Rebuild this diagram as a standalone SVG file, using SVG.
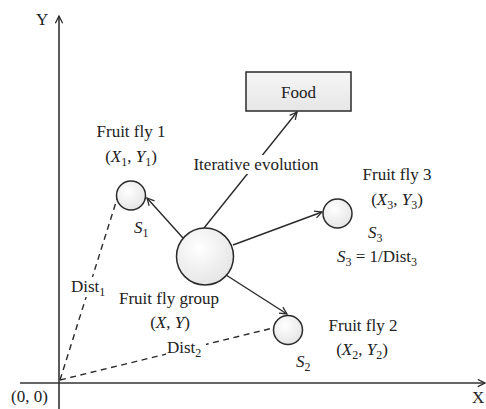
<svg xmlns="http://www.w3.org/2000/svg" width="486" height="409" viewBox="0 0 486 409">
<defs>
<radialGradient id="cg" cx="0.4" cy="0.35" r="0.7">
<stop offset="0" stop-color="#ffffff"/>
<stop offset="1" stop-color="#e4e4e4"/>
</radialGradient>
<linearGradient id="bg" x1="0" y1="0" x2="0" y2="1">
<stop offset="0" stop-color="#f6f6f6"/>
<stop offset="1" stop-color="#e6e6e6"/>
</linearGradient>
<marker id="arr" viewBox="0 0 10 10" refX="9" refY="5" markerWidth="9" markerHeight="9" markerUnits="userSpaceOnUse" orient="auto">
<path d="M1,1 L9,5 L1,9" fill="none" stroke="#2a2a2a" stroke-width="1.4"/>
</marker>
</defs>
<style>
text{font-family:"Liberation Serif","Times New Roman",serif;font-size:17px;fill:#222}
.it{font-style:italic}
.sub{font-size:12px}
.ln{stroke:#2a2a2a;stroke-width:1.4;fill:none}
.ds{stroke:#2a2a2a;stroke-width:1.4;fill:none;stroke-dasharray:6 4.5}
.ax{stroke:#333;stroke-width:1.6;fill:none}
.fly{fill:url(#cg);stroke:#2a2a2a;stroke-width:1.5}
</style>
<rect width="486" height="409" fill="#fff"/>

<g id="axes">
<line class="ax" x1="59" y1="409" x2="59" y2="16" marker-end="url(#arr)"/>
<line class="ax" x1="20" y1="383" x2="485" y2="383" marker-end="url(#arr)"/>
<text x="36" y="25">Y</text>
<text x="472" y="403">X</text>
<text x="11" y="402">(0, 0)</text>
</g>

<g id="connectors">
<line class="ds" x1="60" y1="380" x2="117" y2="199"/>
<line class="ds" x1="60" y1="380" x2="273" y2="328"/>
<line class="ln" x1="204" y1="228" x2="297" y2="112" marker-end="url(#arr)"/>
<line class="ln" x1="183" y1="238" x2="147" y2="198" marker-end="url(#arr)"/>
<line class="ln" x1="233" y1="245" x2="322" y2="212" marker-end="url(#arr)"/>
<line class="ln" x1="226" y1="275" x2="287" y2="314" marker-end="url(#arr)"/>
<rect x="187" y="155" width="138" height="19" fill="#fff"/>
<text x="256" y="170" text-anchor="middle">Iterative evolution</text>
<rect x="70" y="277" width="40" height="20" fill="#fff"/>
<text x="71" y="292">Dist<tspan class="sub" dy="4">1</tspan></text>
<rect x="166" y="338" width="40" height="20" fill="#fff"/>
<text x="167" y="353">Dist<tspan class="sub" dy="4">2</tspan></text>
</g>

<g id="food">
<rect x="246" y="72" width="105" height="39" fill="url(#bg)" stroke="#2a2a2a" stroke-width="1.5"/>
<text x="298.5" y="98" text-anchor="middle">Food</text>
</g>

<g id="group">
<circle class="fly" cx="205" cy="256.5" r="28.5"/>
<text x="169" y="304" text-anchor="middle">Fruit fly group</text>
<text x="170" y="328" text-anchor="middle">(<tspan class="it">X</tspan>, <tspan class="it">Y</tspan>)</text>
</g>

<g id="fly1">
<circle class="fly" cx="131" cy="195.5" r="14.5"/>
<text x="131" y="137" text-anchor="middle">Fruit fly 1</text>
<text x="131" y="162" text-anchor="middle">(<tspan class="it">X</tspan><tspan class="sub" dy="4">1</tspan><tspan dy="-4">, </tspan><tspan class="it">Y</tspan><tspan class="sub" dy="4">1</tspan><tspan dy="-4">)</tspan></text>
<text x="134" y="233" class="it">S<tspan class="sub" dy="4" font-style="normal">1</tspan></text>
</g>

<g id="fly3">
<circle class="fly" cx="337.5" cy="213.5" r="14.5"/>
<text x="397" y="180" text-anchor="middle">Fruit fly 3</text>
<text x="397" y="205" text-anchor="middle">(<tspan class="it">X</tspan><tspan class="sub" dy="4">3</tspan><tspan dy="-4">, </tspan><tspan class="it">Y</tspan><tspan class="sub" dy="4">3</tspan><tspan dy="-4">)</tspan></text>
<text x="368" y="238" class="it">S<tspan class="sub" dy="4" font-style="normal">3</tspan></text>
<text x="377" y="262" text-anchor="middle"><tspan class="it">S</tspan><tspan class="sub" dy="4">3</tspan><tspan dy="-4"> = 1/Dist</tspan><tspan class="sub" dy="4">3</tspan></text>
</g>

<g id="fly2">
<circle class="fly" cx="288" cy="330" r="14.5"/>
<text x="363" y="331" text-anchor="middle">Fruit fly 2</text>
<text x="362" y="355" text-anchor="middle">(<tspan class="it">X</tspan><tspan class="sub" dy="4">2</tspan><tspan dy="-4">, </tspan><tspan class="it">Y</tspan><tspan class="sub" dy="4">2</tspan><tspan dy="-4">)</tspan></text>
<text x="296" y="367" class="it">S<tspan class="sub" dy="4" font-style="normal">2</tspan></text>
</g>
</svg>
